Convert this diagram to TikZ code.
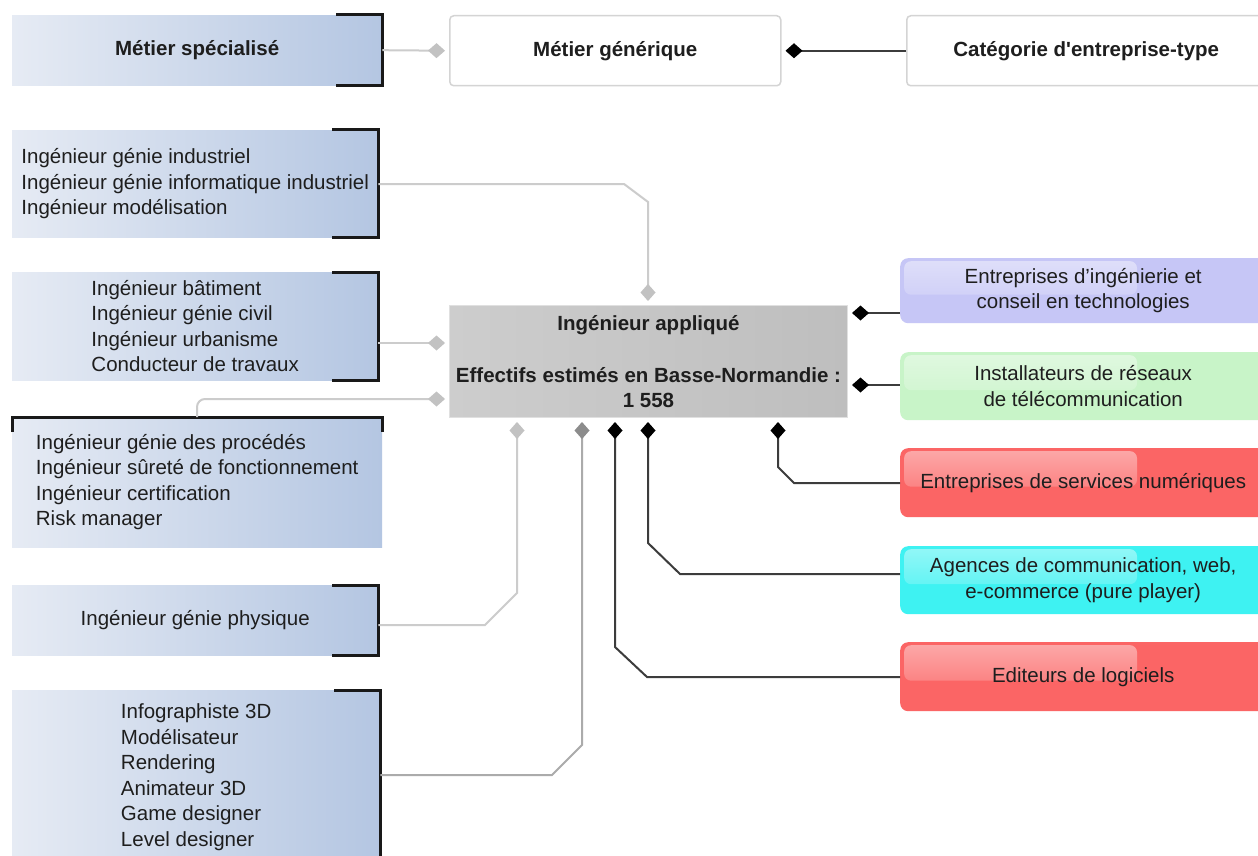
\documentclass[tikz,border=0pt]{standalone}
\usepackage{fontspec}
\setmainfont{Liberation Sans}
\usetikzlibrary{arrows.meta,calc,fadings}
\definecolor{txt}{HTML}{1E1E1E}
\definecolor{specL}{HTML}{E6EBF4}
\definecolor{specR}{HTML}{B4C6E2}
\definecolor{lightln}{HTML}{CCCCCC}
\definecolor{lightdia}{HTML}{C2C2C2}
\definecolor{midln}{HTML}{ABABAB}
\definecolor{middia}{HTML}{8C8C8C}
\definecolor{darkln}{HTML}{3C3C3C}
\definecolor{cenL}{HTML}{CDCDCD}
\definecolor{cenR}{HTML}{BEBEBE}
\definecolor{lav}{HTML}{C6C6F6}
\definecolor{grn}{HTML}{C8F4C8}
\definecolor{rred}{HTML}{FB6565}
\definecolor{cyn}{HTML}{3EF2F2}
\begin{document}
\begin{tikzpicture}[x=1pt,y=-1pt,
  font=\fontsize{20.5}{25.5}\selectfont, text=txt,
  specbox/.style={left color=specL, right color=specR, inner sep=0pt, align=left, anchor=north west},
  bracket/.style={draw=black!90, line width=3pt},
  genbox/.style={draw=black!17, line width=1.5pt, fill=white, rounded corners=4pt, inner sep=0pt, anchor=north west, font=\fontsize{20.5}{25.5}\selectfont\bfseries},
  entbox/.style={rounded corners=8pt, inner sep=0pt, anchor=north west, minimum width=366pt, align=center,
    path picture={\fill[white, fill opacity=0.45, rounded corners=7pt, path fading=south]
      ([shift={(4pt,-3pt)}]path picture bounding box.north west) rectangle ([xshift=237pt,yshift=-4pt]path picture bounding box.west);}},
  lightc/.style={draw=lightln, line width=2pt, {Diamond[length=17pt,width=15pt,fill=lightdia,color=lightdia]}-, shorten <=4pt},
  midc/.style={draw=midln, line width=2pt, {Diamond[length=17pt,width=15pt,fill=middia,color=middia]}-, shorten <=4pt},
  darkc/.style={draw=darkln, line width=2pt, {Diamond[length=17pt,width=15pt,fill=black,color=black]}-, shorten <=4pt}
]
\useasboundingbox[fill=white] (0,0) rectangle (1258,856);

% top legend row
\node[specbox, minimum width=370pt, minimum height=70pt, align=center, font=\fontsize{20.5}{25.5}\selectfont\bfseries] (a) at (12,15) {Métier spécialisé};
\draw[bracket] ([xshift=-46pt]a.north east) -- (a.north east) -- (a.south east) -- ([xshift=-46pt]a.south east);
\node[genbox, minimum width=331pt, minimum height=70pt] (b) at (449,15) {Métier générique};
\node[genbox, minimum width=370pt, minimum height=70pt] (cc) at (906,15) {\hspace*{-11pt}Catégorie d\textquotesingle entreprise-type};
\draw[lightc] (b.west) -- (a.east);
\draw[darkc] (b.east) -- (cc.west);

% central node
\node[left color=cenL, right color=cenR, draw=black!12, line width=1pt, minimum width=398pt, minimum height=112pt, inner sep=0pt, anchor=north west, align=center, font=\fontsize{20.5}{25.5}\selectfont\bfseries] (c) at (449,305)
  {Ingénieur appliqué\\[26.5pt]Effectifs estimés en Basse-Normandie :\\1 558};

% left specialised boxes
\node[specbox, minimum width=366pt, minimum height=107pt] (b1) at (12,130)
  {Ingénieur génie industriel\\Ingénieur génie informatique industriel\\Ingénieur modélisation};
\draw[bracket] ([xshift=-46pt]b1.north east) -- (b1.north east) -- (b1.south east) -- ([xshift=-46pt]b1.south east);

\node[specbox, minimum width=366pt, minimum height=108pt] (b2) at (12,272)
  {Ingénieur bâtiment\\Ingénieur génie civil\\Ingénieur urbanisme\\Conducteur de travaux};
\draw[bracket] ([xshift=-46pt]b2.north east) -- (b2.north east) -- (b2.south east) -- ([xshift=-46pt]b2.south east);

\node[specbox, minimum width=370pt, minimum height=130pt] (b3) at (12,417)
  {Ingénieur génie des procédés\\Ingénieur sûreté de fonctionnement\\Ingénieur certification\\Risk manager};
\draw[bracket] ([yshift=-15pt]b3.north west) -- (b3.north west) -- (b3.north east) -- ([yshift=-15pt]b3.north east);

\node[specbox, minimum width=366pt, minimum height=70pt] (b4) at (12,585)
  {Ingénieur génie physique};
\draw[bracket] ([xshift=-46pt]b4.north east) -- (b4.north east) -- (b4.south east) -- ([xshift=-46pt]b4.south east);

\node[specbox, minimum width=368pt, minimum height=174pt] (b5) at (12,690)
  {Infographiste 3D\\Modélisateur\\Rendering\\Animateur 3D\\Game designer\\Level designer};
\draw[bracket] ([xshift=-46pt]b5.north east) -- (b5.north east) -- (b5.south east);

% right enterprise boxes
\node[entbox, fill=lav, minimum height=65pt] (r1) at (900,258) {Entreprises d’ingénierie et\\conseil en technologies};
\node[entbox, fill=grn, minimum height=68pt] (r2) at (900,352) {Installateurs de réseaux\\de télécommunication};
\node[entbox, fill=rred, minimum height=69pt] (r3) at (900,448) {Entreprises de services numériques};
\node[entbox, fill=cyn, minimum height=68pt] (r4) at (900,546) {Agences de communication, web,\\e-commerce (pure player)};
\node[entbox, fill=rred, minimum height=69pt] (r5) at (900,642) {Editeurs de logiciels};

% connectors to specialised jobs
\draw[lightc] (648,0 |- c.north) -- (648,202) -- (624,184) -- (b1.east |- 0,184);
\draw[lightc] (c.west |- 0,343) -- (b2.east |- 0,343);
\draw[lightc, rounded corners=8pt] (c.west |- 0,399) -- (197,399) -- (197,0 |- b3.north);
\draw[lightc] (517,0 |- c.south) -- (517,593) -- (485,625) -- (b4.east |- 0,625);
\draw[midc] (582,0 |- c.south) -- (582,745) -- (552,775) -- (b5.east |- 0,775);

% connectors to enterprise types
\draw[darkc] (c.east |- 0,313) -- (r1.west |- 0,313);
\draw[darkc] (c.east |- 0,385) -- (r2.west |- 0,385);
\draw[darkc] (778,0 |- c.south) -- (778,467) -- (794,483) -- (r3.west |- 0,483);
\draw[darkc] (648,0 |- c.south) -- (648,543) -- (680,574) -- (r4.west |- 0,574);
\draw[darkc] (615,0 |- c.south) -- (615,647) -- (647,677) -- (r5.west |- 0,677);
\end{tikzpicture}
\end{document}
